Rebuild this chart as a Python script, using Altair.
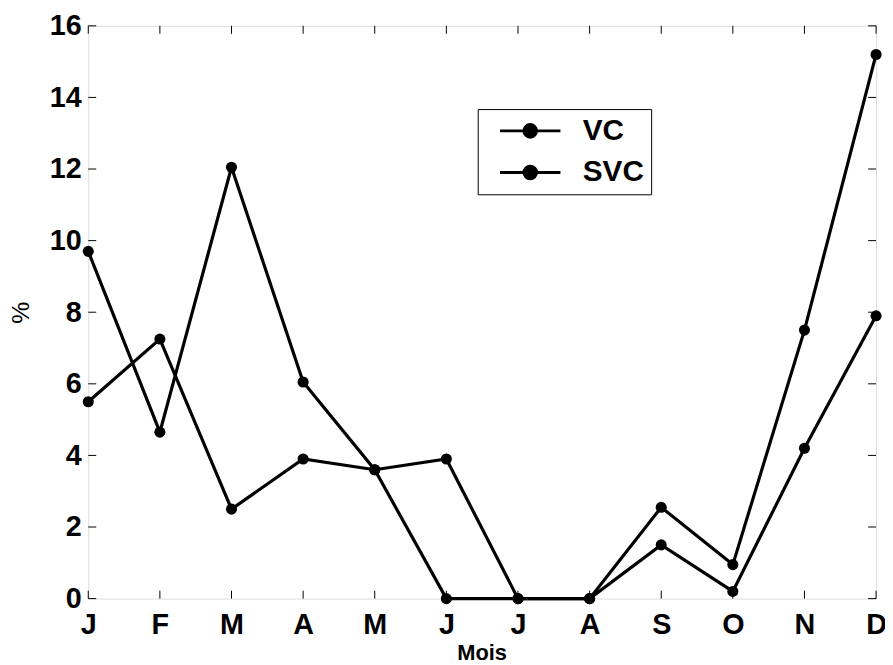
import json
import altair as alt
import pandas as pd

months = ["J", "F", "M", "A", "M", "J", "J", "A", "S", "O", "N", "D"]
month_idx = list(range(1, 13))
vc = [9.7, 4.65, 12.05, 6.05, 3.6, 0.0, 0.0, 0.0, 2.55, 0.95, 7.5, 15.2]
svc = [5.5, 7.25, 2.5, 3.9, 3.6, 3.9, 0.0, 0.0, 1.5, 0.2, 4.2, 7.9]
series_names = ["VC", "SVC"]
y_ticks = [0, 2, 4, 6, 8, 10, 12, 14, 16]

W, H = 795, 578
FONT = "Liberation Sans"

rows = []
for name, vals in zip(series_names, [vc, svc]):
    for i, v in zip(month_idx, vals):
        rows.append({"mi": i, "val": v, "serie": name})
df = pd.DataFrame(rows)

xt = pd.DataFrame({"mi": month_idx})
yt = pd.DataFrame({"val": y_ticks})

label_expr = json.dumps(months) + "[datum.value - 1]"

xscale = alt.Scale(domain=[1, 12], nice=False, zero=False)
yscale = alt.Scale(domain=[0, 16], nice=False, zero=False)

# legend glyph: a line with a filled dot in its middle (unit = sqrt(size)/2 px)
legend_path = ("M-2.5,0H2.5M-0.52,0A0.52,0.52,0,1,1,0.52,0"
               "A0.52,0.52,0,1,1,-0.52,0Z")

main = alt.Chart(df).mark_line(
    strokeWidth=3.2,
    point=alt.OverlayMarkDef(filled=True, size=125, opacity=1),
).encode(
    x=alt.X("mi:Q", scale=xscale, title="Mois",
            axis=alt.Axis(values=month_idx, labelExpr=label_expr, ticks=False,
                          grid=False, domain=False, labelFlush=False,
                          labelFont=FONT, labelFontSize=29, labelFontWeight="bold",
                          labelColor="black", labelPadding=12,
                          titleFont=FONT, titleFontSize=22, titleFontWeight="bold",
                          titleColor="black", titleX=397, titleY=61,
                          titleBaseline="alphabetic", titleAnchor="start",
                          titleAlign="center")),
    y=alt.Y("val:Q", scale=yscale, title="%",
            axis=alt.Axis(values=y_ticks, ticks=False, grid=False, domain=False,
                          labelFont=FONT, labelFontSize=29, labelFontWeight="bold",
                          labelColor="black", labelPadding=7,
                          titleFont=FONT, titleFontSize=25, titleFontWeight="normal",
                          titleColor="black", titleX=-68, titleY=H / 2,
                          titleAngle=270, titleAlign="center",
                          titleBaseline="middle")),
    color=alt.Color("serie:N",
                    scale=alt.Scale(domain=series_names, range=["black", "black"]),
                    legend=alt.Legend(title=None, orient="none", legendX=393,
                                      legendY=84, symbolType=legend_path,
                                      symbolSize=595, symbolStrokeWidth=3,
                                      symbolFillColor="black",
                                      symbolStrokeColor="black",
                                      symbolOffset=31,
                                      labelFont=FONT, labelFontSize=30,
                                      labelFontWeight="bold", labelColor="black",
                                      labelOffset=38, rowPadding=12,
                                      padding=7, strokeColor="black",
                                      fillColor="white", cornerRadius=0)),
    order="mi:Q",
    detail="serie:N",
)

tick_color = "black"
bottom_ticks = alt.Chart(xt).mark_rule(color=tick_color, strokeWidth=1).encode(
    x=alt.X("mi:Q", scale=xscale), y=alt.value(H), y2=alt.value(H - 8))
top_ticks = alt.Chart(xt).mark_rule(color=tick_color, strokeWidth=1).encode(
    x=alt.X("mi:Q", scale=xscale), y=alt.value(0), y2=alt.value(8))
left_ticks = alt.Chart(yt).mark_rule(color=tick_color, strokeWidth=1).encode(
    y=alt.Y("val:Q", scale=yscale), x=alt.value(0), x2=alt.value(8))
right_ticks = alt.Chart(yt).mark_rule(color=tick_color, strokeWidth=1).encode(
    y=alt.Y("val:Q", scale=yscale), x=alt.value(W - 8), x2=alt.value(W))

chart = alt.layer(main, bottom_ticks, top_ticks, left_ticks, right_ticks).properties(
    width=W, height=H,
    autosize=alt.AutoSizeParams(type="none"),
    padding={"left": 81, "top": 15, "right": 9, "bottom": 64},
).configure_view(stroke="black", strokeWidth=1.3).configure(background="white")

chart.save("out.html", embed_options={"renderer": "svg", "actions": False})
